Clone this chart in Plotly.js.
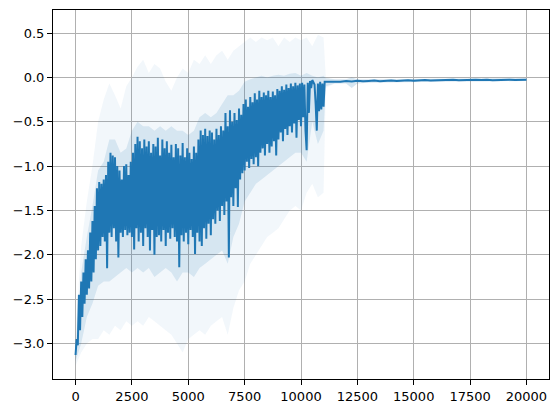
<!DOCTYPE html>
<html>
<head>
<meta charset="utf-8">
<script src="https://cdn.plot.ly/plotly-3.0.1.min.js"></script>
<style>html,body{margin:0;padding:0;background:#fff;}#chart{width:559px;height:413px;}</style>
</head>
<body>
<div id="chart"></div>
<script>
// Noisy phase: one value every 50 steps, from step 0 to step 11050
const stepInterval = 50;
const rewardNoisy = [
 -3.13, -2.95, -3.02, -2.45, -2.85, -2.30, -2.70, -2.20, -2.55, -2.05,
 -2.45, -1.95, -2.38, -1.75, -2.30, -1.62, -2.20, -1.45, -2.05, -1.25,
 -1.95, -1.18, -1.90, -1.20, -1.80, -1.15, -1.85, -1.10, -2.15, -0.95,
 -1.75, -0.85, -1.80, -0.88, -1.70, -0.90, -1.85, -1.00, -2.03, -1.05,
 -1.75, -1.15, -1.80, -1.00, -1.72, -0.98, -1.78, -1.10, -1.75, -0.95,
 -1.80, -0.85, -1.94, -0.75, -1.70, -0.67, -1.85, -0.72, -1.75, -0.80,
 -1.90, -0.70, -1.70, -0.78, -1.80, -0.72, -1.95, -0.85, -1.72, -0.75,
 -2.00, -0.78, -1.80, -0.68, -1.78, -0.88, -1.85, -0.70, -1.72, -0.80,
 -1.90, -0.72, -1.75, -0.85, -1.82, -0.76, -1.70, -0.90, -1.80, -0.75,
 -1.85, -0.80, -2.14, -0.88, -1.78, -0.74, -1.85, -0.90, -1.75, -0.80,
 -1.88, -0.85, -1.72, -0.92, -1.80, -0.78, -1.99, -0.85, -1.75, -0.70,
 -1.85, -0.60, -1.90, -0.65, -1.70, -0.58, -1.82, -0.66, -1.65, -0.60,
 -1.78, -0.62, -1.60, -0.70, -1.65, -0.58, -1.50, -0.65, -1.62, -0.55,
 -1.45, -0.60, -1.55, -0.40, -1.40, -0.55, -2.03, -0.37, -1.35, -0.50,
 -1.45, -0.40, -1.25, -0.48, -1.46, -0.35, -1.15, -0.42, -1.08, -0.30,
 -1.05, -0.25, -0.95, -0.33, -1.02, -0.22, -0.92, -0.28, -0.98, -0.18,
 -0.90, -0.25, -1.00, -0.15, -0.85, -0.22, -0.80, -0.17, -0.88, -0.20,
 -0.75, -0.15, -0.85, -0.22, -0.78, -0.16, -0.72, -0.20, -0.88, -0.13,
 -0.70, -0.15, -0.62, -0.10, -0.72, -0.14, -0.58, -0.08, -0.65, -0.12,
 -0.55, -0.07, -0.62, -0.10, -0.52, -0.06, -0.68, -0.09, -0.48, -0.07,
 -0.55, -0.06, -0.45, -0.08, -0.60, -0.82, -0.06, -0.40, -0.04, -0.12,
 -0.03, -0.05, -0.08, -0.30, -0.60, -0.07, -0.38, -0.05, -0.36, -0.07,
 -0.33, -0.05
];

// Converged phase
const tailSteps = [11250,11500,11750,12000,12250,12500,12750,13000,13250,13500,13750,14000,14250,14500,14750,15000,15250,15500,15750,16000,16250,16500,16750,17000,17250,17500,17750,18000,18250,18500,18750,19000,19250,19500,19750,20000];
const tailReward = [-0.050,-0.042,-0.048,-0.040,-0.046,-0.038,-0.044,-0.040,-0.036,-0.042,-0.038,-0.034,-0.040,-0.036,-0.032,-0.038,-0.034,-0.030,-0.036,-0.032,-0.035,-0.030,-0.027,-0.033,-0.029,-0.032,-0.027,-0.030,-0.026,-0.031,-0.027,-0.029,-0.025,-0.028,-0.025,-0.027];

// Shaded spread
const bandSteps = [0,250,500,750,1000,1250,1500,1750,2000,2250,2500,2750,3000,3250,3500,3750,4000,4250,4500,4750,5000,5250,5500,5750,6000,6250,6500,6750,7000,7250,7500,7750,8000,8250,8500,8750,9000,9250,9500,9750,10000,10250,10500,10750,11000,11100,11500,12000,12250,12500,13000,14000,15000,16000,17000,18000,19000,20000];
const innerHi = [-3.05,-2.20,-1.80,-1.45,-1.05,-0.95,-0.70,-0.70,-0.85,-0.80,-0.60,-0.50,-0.55,-0.55,-0.60,-0.55,-0.60,-0.55,-0.60,-0.60,-0.65,-0.60,-0.45,-0.40,-0.45,-0.40,-0.30,-0.20,-0.20,-0.15,-0.05,-0.02,0.00,0.02,0.00,0.02,0.03,0.02,0.04,0.05,0.02,0.05,0.02,0.00,0.02,-0.01,-0.02,-0.02,0.00,-0.02,-0.02,-0.02,-0.015,-0.015,-0.012,-0.012,-0.010,-0.010];
const innerLo = [-3.20,-3.00,-2.70,-2.55,-2.35,-2.30,-2.30,-2.25,-2.20,-2.15,-2.20,-2.15,-2.20,-2.15,-2.25,-2.20,-2.15,-2.20,-2.30,-2.20,-2.20,-2.25,-2.15,-2.10,-2.05,-2.00,-1.95,-2.10,-1.80,-1.65,-1.40,-1.30,-1.20,-1.15,-1.10,-1.05,-1.00,-0.95,-0.90,-0.85,-0.85,-0.95,-0.50,-0.75,-0.60,-0.10,-0.07,-0.07,-0.12,-0.07,-0.06,-0.055,-0.05,-0.05,-0.045,-0.045,-0.040,-0.040];
const outerHi = [-2.90,-1.90,-1.40,-1.00,-0.50,-0.25,-0.07,-0.20,-0.35,-0.10,0.00,0.12,0.20,0.05,0.15,0.10,-0.05,-0.15,0.00,0.10,0.05,0.20,0.15,0.25,0.15,0.25,0.30,0.20,0.30,0.35,0.40,0.45,0.40,0.45,0.42,0.45,0.35,0.45,0.40,0.45,0.42,0.45,0.35,0.48,0.45,0.00,-0.02,-0.02,0.00,-0.02,-0.02,-0.02,-0.015,-0.015,-0.012,-0.012,-0.010,-0.010];
const outerLo = [-3.25,-3.10,-3.00,-2.95,-2.95,-2.85,-2.90,-2.80,-2.85,-2.75,-2.80,-2.75,-2.80,-2.70,-2.75,-2.80,-2.85,-2.90,-3.00,-3.10,-2.95,-2.90,-2.85,-2.90,-2.80,-2.75,-2.70,-2.90,-2.60,-2.40,-2.30,-2.10,-2.00,-1.90,-1.80,-1.75,-1.70,-1.60,-1.50,-1.45,-1.50,-1.30,-1.20,-1.35,-1.30,-0.12,-0.07,-0.07,-0.12,-0.07,-0.06,-0.055,-0.05,-0.05,-0.045,-0.045,-0.040,-0.040];

const xTicks = [0,2500,5000,7500,10000,12500,15000,17500,20000];
const yTicks = [-3.0,-2.5,-2.0,-1.5,-1.0,-0.5,0.0,0.5];

const lineX = rewardNoisy.map((_, i) => i * stepInterval).concat(tailSteps);
const lineY = rewardNoisy.concat(tailReward);
const blue = '#1f77b4';

const traces = [
  {x: bandSteps, y: outerLo, mode: 'lines', line: {width: 0}, hoverinfo: 'skip', showlegend: false},
  {x: bandSteps, y: outerHi, mode: 'lines', line: {width: 0}, fill: 'tonexty', fillcolor: 'rgba(31,119,180,0.06)', hoverinfo: 'skip', showlegend: false},
  {x: bandSteps, y: innerLo, mode: 'lines', line: {width: 0}, hoverinfo: 'skip', showlegend: false},
  {x: bandSteps, y: innerHi, mode: 'lines', line: {width: 0}, fill: 'tonexty', fillcolor: 'rgba(31,119,180,0.13)', hoverinfo: 'skip', showlegend: false},
  {x: lineX, y: lineY, mode: 'lines', line: {color: blue, width: 2}, showlegend: false}
];

const axisCommon = {
  showline: true, mirror: true, linecolor: '#000', linewidth: 1,
  ticks: 'outside', ticklen: 5, tickwidth: 1, tickcolor: '#000',
  showgrid: true, gridcolor: '#b0b0b0', gridwidth: 1, zeroline: false,
  tickfont: {family: 'DejaVu Sans', size: 13, color: '#000'}
};

const layout = {
  width: 559, height: 413,
  margin: {l: 53, r: 10, t: 10, b: 34},
  paper_bgcolor: '#fff', plot_bgcolor: '#fff',
  showlegend: false,
  xaxis: Object.assign({}, axisCommon, {range: [-1000, 21000], tickvals: xTicks, ticktext: xTicks.map(v => String(v))}),
  yaxis: Object.assign({}, axisCommon, {range: [-3.40, 0.76], tickvals: yTicks, ticktext: yTicks.map(v => (v < 0 ? '\u2212' : '') + Math.abs(v).toFixed(1))})
};

Plotly.newPlot('chart', traces, layout, {displayModeBar: false, staticPlot: true});
</script>
</body>
</html>
